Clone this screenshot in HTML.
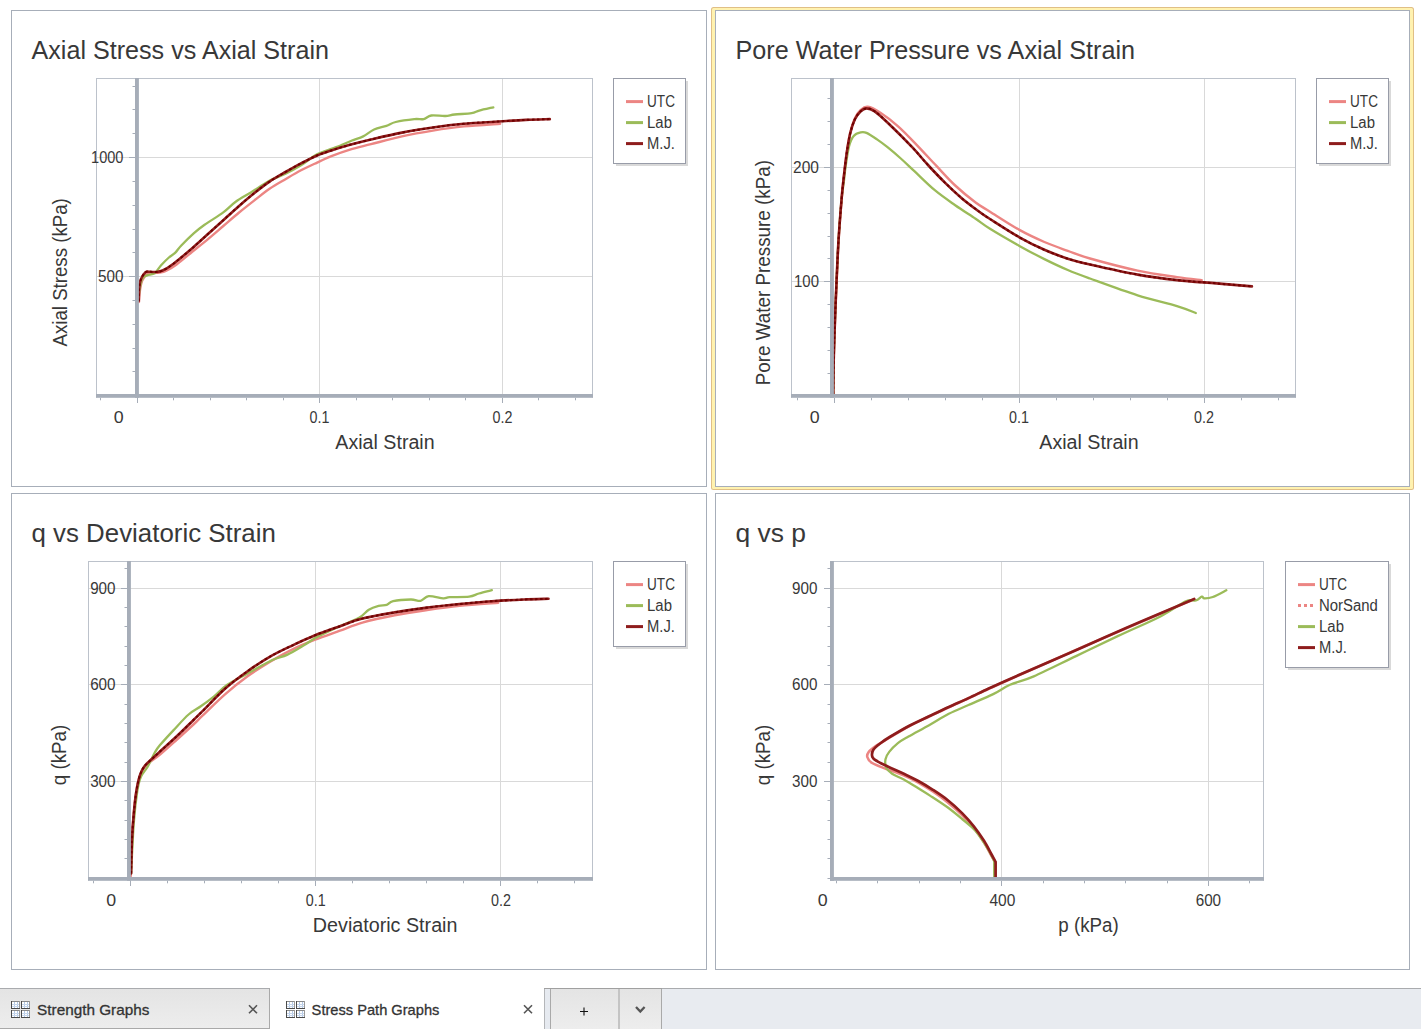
<!DOCTYPE html>
<html><head><meta charset="utf-8"><title>Stress Path Graphs</title>
<style>
html,body{margin:0;padding:0;background:#fff;}
body{width:1421px;height:1029px;overflow:hidden;}
svg{display:block;font-family:"Liberation Sans", sans-serif;}
</style></head><body>
<svg width="1421" height="1029" viewBox="0 0 1421 1029" shape-rendering="auto">
<rect x="0.00" y="0.00" width="1421.00" height="1029.00" fill="#FFFFFF" stroke="none" stroke-width="1" />
<rect x="711.00" y="7.00" width="703.00" height="483.00" fill="#E0BF86" stroke="none" stroke-width="1" rx="2.5"/>
<rect x="712.00" y="8.00" width="701.00" height="481.00" fill="#FFF2B0" stroke="none" stroke-width="1" rx="1.5"/>
<rect x="715.00" y="10.00" width="695.00" height="477.00" fill="#FFFFFF" stroke="none" stroke-width="1" />
<rect x="11.50" y="10.50" width="695.00" height="476.00" fill="none" stroke="#A7AEB9" stroke-width="1" />
<rect x="715.50" y="10.50" width="694.00" height="476.00" fill="none" stroke="#A7AEB9" stroke-width="1" />
<rect x="11.50" y="493.50" width="695.00" height="476.00" fill="none" stroke="#A7AEB9" stroke-width="1" />
<rect x="715.50" y="493.50" width="694.00" height="476.00" fill="none" stroke="#A7AEB9" stroke-width="1" />
<text x="31.49" y="58.90" font-size="25.50" fill="#383838" text-anchor="start" font-weight="normal" textLength="297.53" lengthAdjust="spacingAndGlyphs" >Axial Stress vs Axial Strain</text>
<text x="735.49" y="58.90" font-size="25.50" fill="#383838" text-anchor="start" font-weight="normal" textLength="399.53" lengthAdjust="spacingAndGlyphs" >Pore Water Pressure vs Axial Strain</text>
<text x="31.49" y="541.80" font-size="25.50" fill="#383838" text-anchor="start" font-weight="normal" textLength="244.33" lengthAdjust="spacingAndGlyphs" >q vs Deviatoric Strain</text>
<text x="735.49" y="541.80" font-size="25.50" fill="#383838" text-anchor="start" font-weight="normal" textLength="70.53" lengthAdjust="spacingAndGlyphs" >q vs p</text>
<line x1="96.50" y1="78.00" x2="96.50" y2="397.50" stroke="#BCC2CB" stroke-width="1"/>
<line x1="96.00" y1="78.50" x2="593.00" y2="78.50" stroke="#BCC2CB" stroke-width="1"/>
<line x1="592.50" y1="78.00" x2="592.50" y2="397.50" stroke="#BCC2CB" stroke-width="1"/>
<line x1="319.50" y1="79.00" x2="319.50" y2="394.00" stroke="#D9D9D9" stroke-width="1"/>
<line x1="502.50" y1="79.00" x2="502.50" y2="394.00" stroke="#D9D9D9" stroke-width="1"/>
<line x1="97.00" y1="276.50" x2="592.00" y2="276.50" stroke="#D9D9D9" stroke-width="1"/>
<line x1="97.00" y1="157.50" x2="592.00" y2="157.50" stroke="#D9D9D9" stroke-width="1"/>
<path d="M139.00 302.00 C139.17 300.00 139.50 293.50 140.00 290.00 C140.50 286.50 141.00 283.50 142.00 281.00 C143.00 278.50 144.58 276.28 146.00 275.00 C147.42 273.72 149.02 273.63 150.50 273.30 C151.98 272.97 153.32 273.13 154.90 273.00 C156.48 272.87 158.18 272.83 160.00 272.50 C161.82 272.17 163.03 272.33 165.80 271.00 C168.57 269.67 172.20 267.70 176.60 264.50 C181.00 261.30 187.02 256.00 192.20 251.80 C197.38 247.60 202.52 243.60 207.70 239.30 C212.88 235.00 218.12 230.42 223.30 226.00 C228.48 221.58 233.62 217.07 238.80 212.80 C243.98 208.53 249.22 204.43 254.40 200.40 C259.58 196.37 264.72 192.13 269.90 188.60 C275.08 185.07 280.32 182.25 285.50 179.20 C290.68 176.15 295.82 173.03 301.00 170.30 C306.18 167.57 311.42 165.20 316.60 162.80 C321.78 160.40 326.53 158.10 332.10 155.90 C337.67 153.70 343.52 151.55 350.00 149.60 C356.48 147.65 362.35 146.40 371.00 144.20 C379.65 142.00 391.58 138.67 401.90 136.40 C412.22 134.13 422.57 132.27 432.90 130.60 C443.23 128.93 452.68 127.53 463.90 126.40 C475.12 125.27 494.15 124.23 500.20 123.80" fill="none" stroke="#EC8583" stroke-width="2.4" stroke-linejoin="round" stroke-linecap="round" />
<path d="M138.80 299.00 C138.88 297.63 138.70 294.22 139.30 290.80 C139.90 287.38 141.10 281.07 142.40 278.50 C143.70 275.93 145.02 276.32 147.10 275.40 C149.18 274.48 152.57 274.68 154.90 273.00 C157.23 271.32 158.77 267.88 161.10 265.30 C163.43 262.72 166.57 259.58 168.90 257.50 C171.23 255.42 173.03 254.80 175.10 252.80 C177.17 250.80 178.20 248.73 181.30 245.50 C184.40 242.27 189.82 236.85 193.70 233.40 C197.58 229.95 199.67 228.30 204.60 224.80 C209.53 221.30 218.12 216.23 223.30 212.40 C228.48 208.57 231.03 205.17 235.70 201.80 C240.37 198.43 245.60 195.75 251.30 192.20 C257.00 188.65 264.20 183.57 269.90 180.50 C275.60 177.43 280.32 176.33 285.50 173.80 C290.68 171.27 295.82 168.50 301.00 165.30 C306.18 162.10 311.42 157.37 316.60 154.60 C321.78 151.83 328.20 150.18 332.10 148.70 C336.00 147.22 336.68 147.07 340.00 145.70 C343.32 144.33 348.13 142.05 352.00 140.50 C355.87 138.95 359.52 138.23 363.20 136.40 C366.88 134.57 370.23 131.25 374.10 129.50 C377.97 127.75 382.80 127.15 386.40 125.90 C390.00 124.65 391.05 123.13 395.70 122.00 C400.35 120.87 409.65 119.58 414.30 119.10 C418.95 118.62 420.77 119.70 423.60 119.10 C426.43 118.50 427.68 116.02 431.30 115.50 C434.92 114.98 441.42 116.17 445.30 116.00 C449.18 115.83 450.22 114.97 454.60 114.50 C458.98 114.03 467.48 113.85 471.60 113.20 C475.72 112.55 475.68 111.58 479.30 110.60 C482.92 109.62 490.97 107.85 493.30 107.30" fill="none" stroke="#9BBB59" stroke-width="2.3" stroke-linejoin="round" stroke-linecap="round" />
<path d="M138.70 301.00 C138.78 298.83 138.83 291.62 139.20 288.00 C139.57 284.38 139.85 281.92 140.90 279.30 C141.95 276.68 143.95 273.55 145.50 272.30 C147.05 271.05 148.38 271.85 150.20 271.80 C152.02 271.75 154.33 272.22 156.40 272.00 C158.47 271.78 159.75 271.88 162.60 270.50 C165.45 269.12 168.57 267.42 173.50 263.70 C178.43 259.98 186.50 253.12 192.20 248.20 C197.90 243.28 202.52 238.87 207.70 234.20 C212.88 229.53 218.12 224.87 223.30 220.20 C228.48 215.53 233.62 210.73 238.80 206.20 C243.98 201.67 249.22 197.15 254.40 193.00 C259.58 188.85 264.72 184.80 269.90 181.30 C275.08 177.80 280.32 174.98 285.50 172.00 C290.68 169.02 295.82 166.12 301.00 163.40 C306.18 160.68 311.42 157.90 316.60 155.70 C321.78 153.50 326.53 152.02 332.10 150.20 C337.67 148.38 343.52 146.58 350.00 144.80 C356.48 143.02 362.35 141.53 371.00 139.50 C379.65 137.47 391.58 134.60 401.90 132.60 C412.22 130.60 422.57 128.97 432.90 127.50 C443.23 126.03 453.58 124.77 463.90 123.80 C474.22 122.83 484.48 122.35 494.80 121.70 C505.12 121.05 516.63 120.33 525.80 119.90 C534.97 119.47 545.80 119.23 549.80 119.10" fill="none" stroke="#8E1C1C" stroke-width="2.6" stroke-linejoin="round" stroke-linecap="round" />
<path d="M138.70 301.00 C138.78 298.83 138.83 291.62 139.20 288.00 C139.57 284.38 139.85 281.92 140.90 279.30 C141.95 276.68 143.95 273.55 145.50 272.30 C147.05 271.05 148.38 271.85 150.20 271.80 C152.02 271.75 154.33 272.22 156.40 272.00 C158.47 271.78 159.75 271.88 162.60 270.50 C165.45 269.12 168.57 267.42 173.50 263.70 C178.43 259.98 186.50 253.12 192.20 248.20 C197.90 243.28 202.52 238.87 207.70 234.20 C212.88 229.53 218.12 224.87 223.30 220.20 C228.48 215.53 233.62 210.73 238.80 206.20 C243.98 201.67 249.22 197.15 254.40 193.00 C259.58 188.85 264.72 184.80 269.90 181.30 C275.08 177.80 280.32 174.98 285.50 172.00 C290.68 169.02 295.82 166.12 301.00 163.40 C306.18 160.68 311.42 157.90 316.60 155.70 C321.78 153.50 326.53 152.02 332.10 150.20 C337.67 148.38 343.52 146.58 350.00 144.80 C356.48 143.02 362.35 141.53 371.00 139.50 C379.65 137.47 391.58 134.60 401.90 132.60 C412.22 130.60 422.57 128.97 432.90 127.50 C443.23 126.03 453.58 124.77 463.90 123.80 C474.22 122.83 484.48 122.35 494.80 121.70 C505.12 121.05 516.63 120.33 525.80 119.90 C534.97 119.47 545.80 119.23 549.80 119.10" fill="none" stroke="#6E0000" stroke-width="2.0" stroke-dasharray="2.5 2.5" />
<rect x="96.00" y="394.00" width="497.00" height="3.80" fill="#A6ADB8" stroke="none" stroke-width="1" />
<rect x="135.00" y="78.00" width="3.90" height="319.80" fill="#A6ADB8" stroke="none" stroke-width="1" />
<line x1="129.00" y1="276.50" x2="135.00" y2="276.50" stroke="#A6ADB8" stroke-width="1"/>
<line x1="129.00" y1="157.50" x2="135.00" y2="157.50" stroke="#A6ADB8" stroke-width="1"/>
<line x1="132.50" y1="371.50" x2="135.00" y2="371.50" stroke="#A6ADB8" stroke-width="1"/>
<line x1="132.50" y1="348.50" x2="135.00" y2="348.50" stroke="#A6ADB8" stroke-width="1"/>
<line x1="132.50" y1="324.50" x2="135.00" y2="324.50" stroke="#A6ADB8" stroke-width="1"/>
<line x1="132.50" y1="300.50" x2="135.00" y2="300.50" stroke="#A6ADB8" stroke-width="1"/>
<line x1="132.50" y1="252.50" x2="135.00" y2="252.50" stroke="#A6ADB8" stroke-width="1"/>
<line x1="132.50" y1="229.50" x2="135.00" y2="229.50" stroke="#A6ADB8" stroke-width="1"/>
<line x1="132.50" y1="205.50" x2="135.00" y2="205.50" stroke="#A6ADB8" stroke-width="1"/>
<line x1="132.50" y1="181.50" x2="135.00" y2="181.50" stroke="#A6ADB8" stroke-width="1"/>
<line x1="132.50" y1="133.50" x2="135.00" y2="133.50" stroke="#A6ADB8" stroke-width="1"/>
<line x1="132.50" y1="109.50" x2="135.00" y2="109.50" stroke="#A6ADB8" stroke-width="1"/>
<line x1="132.50" y1="86.50" x2="135.00" y2="86.50" stroke="#A6ADB8" stroke-width="1"/>
<line x1="137.50" y1="397.80" x2="137.50" y2="403.00" stroke="#A6ADB8" stroke-width="1"/>
<line x1="319.50" y1="397.80" x2="319.50" y2="403.00" stroke="#A6ADB8" stroke-width="1"/>
<line x1="502.50" y1="397.80" x2="502.50" y2="403.00" stroke="#A6ADB8" stroke-width="1"/>
<line x1="100.50" y1="397.80" x2="100.50" y2="400.30" stroke="#A6ADB8" stroke-width="1"/>
<line x1="173.50" y1="397.80" x2="173.50" y2="400.30" stroke="#A6ADB8" stroke-width="1"/>
<line x1="210.50" y1="397.80" x2="210.50" y2="400.30" stroke="#A6ADB8" stroke-width="1"/>
<line x1="246.50" y1="397.80" x2="246.50" y2="400.30" stroke="#A6ADB8" stroke-width="1"/>
<line x1="283.50" y1="397.80" x2="283.50" y2="400.30" stroke="#A6ADB8" stroke-width="1"/>
<line x1="356.50" y1="397.80" x2="356.50" y2="400.30" stroke="#A6ADB8" stroke-width="1"/>
<line x1="392.50" y1="397.80" x2="392.50" y2="400.30" stroke="#A6ADB8" stroke-width="1"/>
<line x1="429.50" y1="397.80" x2="429.50" y2="400.30" stroke="#A6ADB8" stroke-width="1"/>
<line x1="465.50" y1="397.80" x2="465.50" y2="400.30" stroke="#A6ADB8" stroke-width="1"/>
<line x1="538.50" y1="397.80" x2="538.50" y2="400.30" stroke="#A6ADB8" stroke-width="1"/>
<line x1="575.50" y1="397.80" x2="575.50" y2="400.30" stroke="#A6ADB8" stroke-width="1"/>
<text x="123.45" y="162.60" font-size="16.00" fill="#383838" text-anchor="end" font-weight="normal" textLength="32.40" lengthAdjust="spacingAndGlyphs" >1000</text>
<text x="123.45" y="281.70" font-size="16.00" fill="#383838" text-anchor="end" font-weight="normal" textLength="25.40" lengthAdjust="spacingAndGlyphs" >500</text>
<text x="118.80" y="422.80" font-size="16.00" fill="#383838" text-anchor="middle" font-weight="normal" textLength="9.90" lengthAdjust="spacingAndGlyphs" >0</text>
<text x="319.50" y="422.80" font-size="16.00" fill="#383838" text-anchor="middle" font-weight="normal" textLength="19.90" lengthAdjust="spacingAndGlyphs" >0.1</text>
<text x="502.50" y="422.80" font-size="16.00" fill="#383838" text-anchor="middle" font-weight="normal" textLength="19.90" lengthAdjust="spacingAndGlyphs" >0.2</text>
<text x="335.34" y="448.80" font-size="19.50" fill="#383838" text-anchor="start" font-weight="normal" textLength="99.32" lengthAdjust="spacingAndGlyphs" >Axial Strain</text>
<text transform="translate(66.60 346.50) rotate(-90)" font-size="19.50" fill="#383838" textLength="148.30" lengthAdjust="spacingAndGlyphs">Axial Stress (kPa)</text>
<rect x="616.00" y="81.00" width="72.00" height="85.00" fill="#D9D9D9" stroke="none" stroke-width="1" />
<rect x="613.50" y="78.50" width="72.00" height="85.00" fill="#FFFFFF" stroke="#989CA8" stroke-width="1" />
<line x1="626.00" y1="101.60" x2="643.00" y2="101.60" stroke="#EC8583" stroke-width="3"/>
<text x="647.06" y="106.60" font-size="15.80" fill="#383838" text-anchor="start" font-weight="normal" textLength="27.88" lengthAdjust="spacingAndGlyphs" >UTC</text>
<line x1="626.00" y1="122.60" x2="643.00" y2="122.60" stroke="#9BBB59" stroke-width="3"/>
<text x="647.06" y="127.60" font-size="15.80" fill="#383838" text-anchor="start" font-weight="normal" textLength="24.88" lengthAdjust="spacingAndGlyphs" >Lab</text>
<line x1="626.00" y1="143.60" x2="643.00" y2="143.60" stroke="#8E1C1C" stroke-width="3"/>
<text x="647.06" y="148.60" font-size="15.80" fill="#383838" text-anchor="start" font-weight="normal" textLength="27.88" lengthAdjust="spacingAndGlyphs" >M.J.</text>
<line x1="791.50" y1="78.00" x2="791.50" y2="397.50" stroke="#BCC2CB" stroke-width="1"/>
<line x1="791.00" y1="78.50" x2="1296.00" y2="78.50" stroke="#BCC2CB" stroke-width="1"/>
<line x1="1295.50" y1="78.00" x2="1295.50" y2="397.50" stroke="#BCC2CB" stroke-width="1"/>
<line x1="1019.50" y1="79.00" x2="1019.50" y2="394.00" stroke="#D9D9D9" stroke-width="1"/>
<line x1="1204.50" y1="79.00" x2="1204.50" y2="394.00" stroke="#D9D9D9" stroke-width="1"/>
<line x1="792.00" y1="281.50" x2="1295.00" y2="281.50" stroke="#D9D9D9" stroke-width="1"/>
<line x1="792.00" y1="167.50" x2="1295.00" y2="167.50" stroke="#D9D9D9" stroke-width="1"/>
<path d="M833.30 394.00 C833.40 387.60 833.58 368.48 833.90 355.60 C834.22 342.72 834.72 329.67 835.20 316.70 C835.68 303.73 836.22 290.77 836.80 277.80 C837.38 264.83 837.90 251.87 838.70 238.90 C839.50 225.93 840.85 209.48 841.60 200.00 C842.35 190.52 842.35 189.92 843.20 182.00 C844.05 174.08 845.53 160.75 846.70 152.50 C847.87 144.25 848.85 138.17 850.20 132.50 C851.55 126.83 853.05 122.25 854.80 118.50 C856.55 114.75 858.55 111.95 860.70 110.00 C862.85 108.05 864.42 106.35 867.70 106.80 C870.98 107.25 875.33 109.45 880.40 112.70 C885.47 115.95 891.98 120.87 898.10 126.30 C904.22 131.73 910.75 138.73 917.10 145.30 C923.45 151.87 929.85 159.00 936.20 165.70 C942.55 172.40 948.63 179.37 955.20 185.50 C961.77 191.63 969.80 198.13 975.60 202.50 C981.40 206.87 982.70 207.13 990.00 211.70 C997.30 216.27 1010.33 224.85 1019.40 229.90 C1028.47 234.95 1036.33 238.50 1044.40 242.00 C1052.47 245.50 1060.20 248.15 1067.80 250.90 C1075.40 253.65 1078.37 255.22 1090.00 258.50 C1101.63 261.78 1123.10 267.50 1137.60 270.60 C1152.10 273.70 1166.32 275.52 1177.00 277.10 C1187.68 278.68 1197.58 279.60 1201.70 280.10" fill="none" stroke="#EC8583" stroke-width="2.4" stroke-linejoin="round" stroke-linecap="round" />
<path d="M833.20 394.00 C833.30 387.60 833.48 368.48 833.80 355.60 C834.12 342.72 834.62 329.67 835.10 316.70 C835.58 303.73 836.12 290.77 836.70 277.80 C837.28 264.83 837.80 251.87 838.60 238.90 C839.40 225.93 840.63 209.48 841.50 200.00 C842.37 190.52 843.13 187.43 843.80 182.00 C844.47 176.57 844.63 173.33 845.50 167.40 C846.37 161.47 847.63 151.65 849.00 146.40 C850.37 141.15 851.75 138.23 853.70 135.90 C855.65 133.57 858.57 132.90 860.70 132.40 C862.83 131.90 863.78 131.73 866.50 132.90 C869.22 134.07 873.50 137.02 877.00 139.40 C880.50 141.78 883.53 144.02 887.50 147.20 C891.47 150.38 896.32 154.50 900.80 158.50 C905.28 162.50 908.73 165.92 914.40 171.20 C920.07 176.48 928.00 184.53 934.80 190.20 C941.60 195.87 948.40 200.43 955.20 205.20 C962.00 209.97 969.80 214.87 975.60 218.80 C981.40 222.73 982.70 224.28 990.00 228.80 C997.30 233.32 1010.33 240.85 1019.40 245.90 C1028.47 250.95 1036.33 255.08 1044.40 259.10 C1052.47 263.12 1060.20 266.77 1067.80 270.00 C1075.40 273.23 1078.37 274.28 1090.00 278.50 C1101.63 282.72 1123.10 290.70 1137.60 295.30 C1152.10 299.90 1167.30 303.15 1177.00 306.10 C1186.70 309.05 1192.67 311.85 1195.80 313.00" fill="none" stroke="#9BBB59" stroke-width="2.3" stroke-linejoin="round" stroke-linecap="round" />
<path d="M833.20 394.00 C833.30 387.60 833.48 368.48 833.80 355.60 C834.12 342.72 834.62 329.67 835.10 316.70 C835.58 303.73 836.12 290.77 836.70 277.80 C837.28 264.83 837.80 251.87 838.60 238.90 C839.40 225.93 840.73 209.40 841.50 200.00 C842.27 190.60 842.33 190.27 843.20 182.50 C844.07 174.73 845.53 161.57 846.70 153.40 C847.87 145.23 848.85 139.15 850.20 133.50 C851.55 127.85 853.05 123.20 854.80 119.50 C856.55 115.80 858.75 113.15 860.70 111.30 C862.65 109.45 864.17 108.40 866.50 108.40 C868.83 108.40 871.12 108.87 874.70 111.30 C878.28 113.73 881.83 117.10 888.00 123.00 C894.17 128.90 905.03 139.70 911.70 146.70 C918.37 153.70 922.55 159.10 928.00 165.00 C933.45 170.90 938.73 176.53 944.40 182.10 C950.07 187.67 956.12 193.42 962.00 198.40 C967.88 203.38 975.03 208.57 979.70 212.00 C984.37 215.43 983.38 214.78 990.00 219.00 C996.62 223.22 1010.33 232.17 1019.40 237.30 C1028.47 242.43 1036.33 246.23 1044.40 249.80 C1052.47 253.37 1060.20 256.25 1067.80 258.70 C1075.40 261.15 1078.37 261.85 1090.00 264.50 C1101.63 267.15 1123.10 272.00 1137.60 274.60 C1152.10 277.20 1163.85 278.63 1177.00 280.10 C1190.15 281.57 1204.02 282.35 1216.50 283.40 C1228.98 284.45 1246.00 285.90 1251.90 286.40" fill="none" stroke="#8E1C1C" stroke-width="2.6" stroke-linejoin="round" stroke-linecap="round" />
<path d="M833.20 394.00 C833.30 387.60 833.48 368.48 833.80 355.60 C834.12 342.72 834.62 329.67 835.10 316.70 C835.58 303.73 836.12 290.77 836.70 277.80 C837.28 264.83 837.80 251.87 838.60 238.90 C839.40 225.93 840.73 209.40 841.50 200.00 C842.27 190.60 842.33 190.27 843.20 182.50 C844.07 174.73 845.53 161.57 846.70 153.40 C847.87 145.23 848.85 139.15 850.20 133.50 C851.55 127.85 853.05 123.20 854.80 119.50 C856.55 115.80 858.75 113.15 860.70 111.30 C862.65 109.45 864.17 108.40 866.50 108.40 C868.83 108.40 871.12 108.87 874.70 111.30 C878.28 113.73 881.83 117.10 888.00 123.00 C894.17 128.90 905.03 139.70 911.70 146.70 C918.37 153.70 922.55 159.10 928.00 165.00 C933.45 170.90 938.73 176.53 944.40 182.10 C950.07 187.67 956.12 193.42 962.00 198.40 C967.88 203.38 975.03 208.57 979.70 212.00 C984.37 215.43 983.38 214.78 990.00 219.00 C996.62 223.22 1010.33 232.17 1019.40 237.30 C1028.47 242.43 1036.33 246.23 1044.40 249.80 C1052.47 253.37 1060.20 256.25 1067.80 258.70 C1075.40 261.15 1078.37 261.85 1090.00 264.50 C1101.63 267.15 1123.10 272.00 1137.60 274.60 C1152.10 277.20 1163.85 278.63 1177.00 280.10 C1190.15 281.57 1204.02 282.35 1216.50 283.40 C1228.98 284.45 1246.00 285.90 1251.90 286.40" fill="none" stroke="#6E0000" stroke-width="2.0" stroke-dasharray="2.5 2.5" />
<rect x="791.00" y="394.00" width="505.00" height="3.80" fill="#A6ADB8" stroke="none" stroke-width="1" />
<rect x="830.00" y="78.00" width="3.90" height="319.80" fill="#A6ADB8" stroke="none" stroke-width="1" />
<line x1="824.00" y1="281.50" x2="830.00" y2="281.50" stroke="#A6ADB8" stroke-width="1"/>
<line x1="824.00" y1="167.50" x2="830.00" y2="167.50" stroke="#A6ADB8" stroke-width="1"/>
<line x1="827.50" y1="373.50" x2="830.00" y2="373.50" stroke="#A6ADB8" stroke-width="1"/>
<line x1="827.50" y1="350.50" x2="830.00" y2="350.50" stroke="#A6ADB8" stroke-width="1"/>
<line x1="827.50" y1="327.50" x2="830.00" y2="327.50" stroke="#A6ADB8" stroke-width="1"/>
<line x1="827.50" y1="304.50" x2="830.00" y2="304.50" stroke="#A6ADB8" stroke-width="1"/>
<line x1="827.50" y1="258.50" x2="830.00" y2="258.50" stroke="#A6ADB8" stroke-width="1"/>
<line x1="827.50" y1="236.50" x2="830.00" y2="236.50" stroke="#A6ADB8" stroke-width="1"/>
<line x1="827.50" y1="213.50" x2="830.00" y2="213.50" stroke="#A6ADB8" stroke-width="1"/>
<line x1="827.50" y1="190.50" x2="830.00" y2="190.50" stroke="#A6ADB8" stroke-width="1"/>
<line x1="827.50" y1="144.50" x2="830.00" y2="144.50" stroke="#A6ADB8" stroke-width="1"/>
<line x1="827.50" y1="121.50" x2="830.00" y2="121.50" stroke="#A6ADB8" stroke-width="1"/>
<line x1="827.50" y1="98.50" x2="830.00" y2="98.50" stroke="#A6ADB8" stroke-width="1"/>
<line x1="834.50" y1="397.80" x2="834.50" y2="403.00" stroke="#A6ADB8" stroke-width="1"/>
<line x1="1019.50" y1="397.80" x2="1019.50" y2="403.00" stroke="#A6ADB8" stroke-width="1"/>
<line x1="1204.50" y1="397.80" x2="1204.50" y2="403.00" stroke="#A6ADB8" stroke-width="1"/>
<line x1="797.50" y1="397.80" x2="797.50" y2="400.30" stroke="#A6ADB8" stroke-width="1"/>
<line x1="871.50" y1="397.80" x2="871.50" y2="400.30" stroke="#A6ADB8" stroke-width="1"/>
<line x1="908.50" y1="397.80" x2="908.50" y2="400.30" stroke="#A6ADB8" stroke-width="1"/>
<line x1="945.50" y1="397.80" x2="945.50" y2="400.30" stroke="#A6ADB8" stroke-width="1"/>
<line x1="982.50" y1="397.80" x2="982.50" y2="400.30" stroke="#A6ADB8" stroke-width="1"/>
<line x1="1056.50" y1="397.80" x2="1056.50" y2="400.30" stroke="#A6ADB8" stroke-width="1"/>
<line x1="1093.50" y1="397.80" x2="1093.50" y2="400.30" stroke="#A6ADB8" stroke-width="1"/>
<line x1="1130.50" y1="397.80" x2="1130.50" y2="400.30" stroke="#A6ADB8" stroke-width="1"/>
<line x1="1167.50" y1="397.80" x2="1167.50" y2="400.30" stroke="#A6ADB8" stroke-width="1"/>
<line x1="1241.50" y1="397.80" x2="1241.50" y2="400.30" stroke="#A6ADB8" stroke-width="1"/>
<line x1="1278.50" y1="397.80" x2="1278.50" y2="400.30" stroke="#A6ADB8" stroke-width="1"/>
<text x="818.95" y="172.70" font-size="16.00" fill="#383838" text-anchor="end" font-weight="normal" textLength="25.90" lengthAdjust="spacingAndGlyphs" >200</text>
<text x="818.95" y="286.70" font-size="16.00" fill="#383838" text-anchor="end" font-weight="normal" textLength="24.90" lengthAdjust="spacingAndGlyphs" >100</text>
<text x="814.80" y="422.80" font-size="16.00" fill="#383838" text-anchor="middle" font-weight="normal" textLength="9.90" lengthAdjust="spacingAndGlyphs" >0</text>
<text x="1019.00" y="422.80" font-size="16.00" fill="#383838" text-anchor="middle" font-weight="normal" textLength="19.90" lengthAdjust="spacingAndGlyphs" >0.1</text>
<text x="1204.00" y="422.80" font-size="16.00" fill="#383838" text-anchor="middle" font-weight="normal" textLength="19.90" lengthAdjust="spacingAndGlyphs" >0.2</text>
<text x="1039.34" y="448.80" font-size="19.50" fill="#383838" text-anchor="start" font-weight="normal" textLength="99.32" lengthAdjust="spacingAndGlyphs" >Axial Strain</text>
<text transform="translate(769.60 385.20) rotate(-90)" font-size="19.50" fill="#383838" textLength="225.20" lengthAdjust="spacingAndGlyphs">Pore Water Pressure (kPa)</text>
<rect x="1319.00" y="81.00" width="72.00" height="85.00" fill="#D9D9D9" stroke="none" stroke-width="1" />
<rect x="1316.50" y="78.50" width="72.00" height="85.00" fill="#FFFFFF" stroke="#989CA8" stroke-width="1" />
<line x1="1329.00" y1="101.60" x2="1346.00" y2="101.60" stroke="#EC8583" stroke-width="3"/>
<text x="1350.06" y="106.60" font-size="15.80" fill="#383838" text-anchor="start" font-weight="normal" textLength="27.88" lengthAdjust="spacingAndGlyphs" >UTC</text>
<line x1="1329.00" y1="122.60" x2="1346.00" y2="122.60" stroke="#9BBB59" stroke-width="3"/>
<text x="1350.06" y="127.60" font-size="15.80" fill="#383838" text-anchor="start" font-weight="normal" textLength="24.88" lengthAdjust="spacingAndGlyphs" >Lab</text>
<line x1="1329.00" y1="143.60" x2="1346.00" y2="143.60" stroke="#8E1C1C" stroke-width="3"/>
<text x="1350.06" y="148.60" font-size="15.80" fill="#383838" text-anchor="start" font-weight="normal" textLength="27.88" lengthAdjust="spacingAndGlyphs" >M.J.</text>
<line x1="88.50" y1="561.00" x2="88.50" y2="880.50" stroke="#BCC2CB" stroke-width="1"/>
<line x1="88.00" y1="561.50" x2="593.00" y2="561.50" stroke="#BCC2CB" stroke-width="1"/>
<line x1="592.50" y1="561.00" x2="592.50" y2="880.50" stroke="#BCC2CB" stroke-width="1"/>
<line x1="315.50" y1="562.00" x2="315.50" y2="877.00" stroke="#D9D9D9" stroke-width="1"/>
<line x1="500.50" y1="562.00" x2="500.50" y2="877.00" stroke="#D9D9D9" stroke-width="1"/>
<line x1="89.00" y1="781.50" x2="592.00" y2="781.50" stroke="#D9D9D9" stroke-width="1"/>
<line x1="89.00" y1="684.50" x2="592.00" y2="684.50" stroke="#D9D9D9" stroke-width="1"/>
<line x1="89.00" y1="588.50" x2="592.00" y2="588.50" stroke="#D9D9D9" stroke-width="1"/>
<path d="M130.80 876.00 C130.97 870.00 131.33 850.37 131.80 840.00 C132.27 829.63 132.87 821.88 133.60 813.80 C134.33 805.72 135.17 797.80 136.20 791.50 C137.23 785.20 138.45 780.00 139.80 776.00 C141.15 772.00 142.38 770.00 144.30 767.50 C146.22 765.00 148.68 763.15 151.30 761.00 C153.92 758.85 155.72 758.18 160.00 754.60 C164.28 751.02 171.33 744.60 177.00 739.50 C182.67 734.40 189.75 727.97 194.00 724.00 C198.25 720.03 197.33 720.65 202.50 715.70 C207.67 710.75 217.48 700.87 225.00 694.30 C232.52 687.73 240.08 681.73 247.60 676.30 C255.12 670.87 262.60 666.20 270.10 661.70 C277.60 657.20 285.10 652.97 292.60 649.30 C300.10 645.63 307.20 642.80 315.10 639.70 C323.00 636.60 332.12 633.55 340.00 630.70 C347.88 627.85 353.28 625.17 362.40 622.60 C371.52 620.03 383.92 617.38 394.70 615.30 C405.48 613.22 416.30 611.67 427.10 610.10 C437.90 608.53 447.63 607.13 459.50 605.90 C471.37 604.67 491.83 603.23 498.30 602.70" fill="none" stroke="#EC8583" stroke-width="2.4" stroke-linejoin="round" stroke-linecap="round" />
<path d="M131.10 873.40 C131.55 864.93 132.77 836.32 133.80 822.60 C134.83 808.88 136.13 798.70 137.30 791.10 C138.47 783.50 139.05 781.10 140.80 777.00 C142.55 772.90 145.47 770.58 147.80 766.50 C150.13 762.42 152.77 756.07 154.80 752.50 C156.83 748.93 156.87 748.83 160.00 745.10 C163.13 741.37 168.83 735.20 173.60 730.10 C178.37 725.00 184.07 718.47 188.60 714.50 C193.13 710.53 196.50 709.37 200.80 706.30 C205.10 703.23 209.98 699.70 214.40 696.10 C218.82 692.50 221.77 688.47 227.30 684.70 C232.83 680.93 240.10 677.62 247.60 673.50 C255.10 669.38 265.73 663.10 272.30 660.00 C278.87 656.90 281.73 657.35 287.00 654.90 C292.27 652.45 299.22 648.12 303.90 645.30 C308.58 642.48 311.35 640.15 315.10 638.00 C318.85 635.85 322.25 634.37 326.40 632.40 C330.55 630.43 334.55 628.63 340.00 626.20 C345.45 623.77 354.30 620.55 359.10 617.80 C363.90 615.05 365.55 611.68 368.80 609.70 C372.05 607.72 375.62 606.72 378.60 605.90 C381.58 605.08 384.28 605.60 386.70 604.80 C389.12 604.00 389.07 601.98 393.10 601.10 C397.13 600.22 406.32 599.55 410.90 599.50 C415.48 599.45 417.63 601.35 420.60 600.80 C423.57 600.25 424.92 596.62 428.70 596.20 C432.48 595.78 439.78 598.13 443.30 598.30 C446.82 598.47 445.48 597.47 449.80 597.20 C454.12 596.93 464.35 597.32 469.20 596.70 C474.05 596.08 475.12 594.58 478.90 593.50 C482.68 592.42 489.73 590.75 491.90 590.20" fill="none" stroke="#9BBB59" stroke-width="2.3" stroke-linejoin="round" stroke-linecap="round" />
<path d="M131.10 873.40 C131.25 867.85 131.55 850.03 132.00 840.10 C132.45 830.17 133.07 821.97 133.80 813.80 C134.53 805.63 135.38 797.52 136.40 791.10 C137.42 784.68 138.58 779.40 139.90 775.30 C141.22 771.20 142.40 769.13 144.30 766.50 C146.20 763.87 148.68 762.00 151.30 759.50 C153.92 757.00 155.72 755.42 160.00 751.50 C164.28 747.58 171.33 741.33 177.00 736.00 C182.67 730.67 189.75 723.63 194.00 719.50 C198.25 715.37 197.33 716.33 202.50 711.20 C207.67 706.07 217.48 695.37 225.00 688.70 C232.52 682.03 240.08 676.55 247.60 671.20 C255.12 665.85 262.60 660.92 270.10 656.60 C277.60 652.28 285.10 648.87 292.60 645.30 C300.10 641.73 307.20 638.38 315.10 635.20 C323.00 632.02 332.12 628.97 340.00 626.20 C347.88 623.43 353.28 620.90 362.40 618.60 C371.52 616.30 383.92 614.23 394.70 612.40 C405.48 610.57 416.30 609.00 427.10 607.60 C437.90 606.20 448.70 605.07 459.50 604.00 C470.30 602.93 481.12 601.95 491.90 601.20 C502.68 600.45 514.77 599.90 524.20 599.50 C533.63 599.10 544.45 598.92 548.50 598.80" fill="none" stroke="#8E1C1C" stroke-width="2.6" stroke-linejoin="round" stroke-linecap="round" />
<path d="M131.10 873.40 C131.25 867.85 131.55 850.03 132.00 840.10 C132.45 830.17 133.07 821.97 133.80 813.80 C134.53 805.63 135.38 797.52 136.40 791.10 C137.42 784.68 138.58 779.40 139.90 775.30 C141.22 771.20 142.40 769.13 144.30 766.50 C146.20 763.87 148.68 762.00 151.30 759.50 C153.92 757.00 155.72 755.42 160.00 751.50 C164.28 747.58 171.33 741.33 177.00 736.00 C182.67 730.67 189.75 723.63 194.00 719.50 C198.25 715.37 197.33 716.33 202.50 711.20 C207.67 706.07 217.48 695.37 225.00 688.70 C232.52 682.03 240.08 676.55 247.60 671.20 C255.12 665.85 262.60 660.92 270.10 656.60 C277.60 652.28 285.10 648.87 292.60 645.30 C300.10 641.73 307.20 638.38 315.10 635.20 C323.00 632.02 332.12 628.97 340.00 626.20 C347.88 623.43 353.28 620.90 362.40 618.60 C371.52 616.30 383.92 614.23 394.70 612.40 C405.48 610.57 416.30 609.00 427.10 607.60 C437.90 606.20 448.70 605.07 459.50 604.00 C470.30 602.93 481.12 601.95 491.90 601.20 C502.68 600.45 514.77 599.90 524.20 599.50 C533.63 599.10 544.45 598.92 548.50 598.80" fill="none" stroke="#6E0000" stroke-width="2.0" stroke-dasharray="2.5 2.5" />
<rect x="88.00" y="877.00" width="505.00" height="3.80" fill="#A6ADB8" stroke="none" stroke-width="1" />
<rect x="127.00" y="561.00" width="3.90" height="319.80" fill="#A6ADB8" stroke="none" stroke-width="1" />
<line x1="121.00" y1="781.50" x2="127.00" y2="781.50" stroke="#A6ADB8" stroke-width="1"/>
<line x1="121.00" y1="684.50" x2="127.00" y2="684.50" stroke="#A6ADB8" stroke-width="1"/>
<line x1="121.00" y1="588.50" x2="127.00" y2="588.50" stroke="#A6ADB8" stroke-width="1"/>
<line x1="124.50" y1="858.50" x2="127.00" y2="858.50" stroke="#A6ADB8" stroke-width="1"/>
<line x1="124.50" y1="839.50" x2="127.00" y2="839.50" stroke="#A6ADB8" stroke-width="1"/>
<line x1="124.50" y1="820.50" x2="127.00" y2="820.50" stroke="#A6ADB8" stroke-width="1"/>
<line x1="124.50" y1="800.50" x2="127.00" y2="800.50" stroke="#A6ADB8" stroke-width="1"/>
<line x1="124.50" y1="762.50" x2="127.00" y2="762.50" stroke="#A6ADB8" stroke-width="1"/>
<line x1="124.50" y1="742.50" x2="127.00" y2="742.50" stroke="#A6ADB8" stroke-width="1"/>
<line x1="124.50" y1="723.50" x2="127.00" y2="723.50" stroke="#A6ADB8" stroke-width="1"/>
<line x1="124.50" y1="704.50" x2="127.00" y2="704.50" stroke="#A6ADB8" stroke-width="1"/>
<line x1="124.50" y1="665.50" x2="127.00" y2="665.50" stroke="#A6ADB8" stroke-width="1"/>
<line x1="124.50" y1="646.50" x2="127.00" y2="646.50" stroke="#A6ADB8" stroke-width="1"/>
<line x1="124.50" y1="626.50" x2="127.00" y2="626.50" stroke="#A6ADB8" stroke-width="1"/>
<line x1="124.50" y1="607.50" x2="127.00" y2="607.50" stroke="#A6ADB8" stroke-width="1"/>
<line x1="124.50" y1="568.50" x2="127.00" y2="568.50" stroke="#A6ADB8" stroke-width="1"/>
<line x1="130.50" y1="880.80" x2="130.50" y2="886.00" stroke="#A6ADB8" stroke-width="1"/>
<line x1="315.50" y1="880.80" x2="315.50" y2="886.00" stroke="#A6ADB8" stroke-width="1"/>
<line x1="500.50" y1="880.80" x2="500.50" y2="886.00" stroke="#A6ADB8" stroke-width="1"/>
<line x1="93.50" y1="880.80" x2="93.50" y2="883.30" stroke="#A6ADB8" stroke-width="1"/>
<line x1="167.50" y1="880.80" x2="167.50" y2="883.30" stroke="#A6ADB8" stroke-width="1"/>
<line x1="204.50" y1="880.80" x2="204.50" y2="883.30" stroke="#A6ADB8" stroke-width="1"/>
<line x1="241.50" y1="880.80" x2="241.50" y2="883.30" stroke="#A6ADB8" stroke-width="1"/>
<line x1="278.50" y1="880.80" x2="278.50" y2="883.30" stroke="#A6ADB8" stroke-width="1"/>
<line x1="352.50" y1="880.80" x2="352.50" y2="883.30" stroke="#A6ADB8" stroke-width="1"/>
<line x1="389.50" y1="880.80" x2="389.50" y2="883.30" stroke="#A6ADB8" stroke-width="1"/>
<line x1="426.50" y1="880.80" x2="426.50" y2="883.30" stroke="#A6ADB8" stroke-width="1"/>
<line x1="463.50" y1="880.80" x2="463.50" y2="883.30" stroke="#A6ADB8" stroke-width="1"/>
<line x1="537.50" y1="880.80" x2="537.50" y2="883.30" stroke="#A6ADB8" stroke-width="1"/>
<line x1="574.50" y1="880.80" x2="574.50" y2="883.30" stroke="#A6ADB8" stroke-width="1"/>
<text x="115.55" y="593.70" font-size="16.00" fill="#383838" text-anchor="end" font-weight="normal" textLength="25.40" lengthAdjust="spacingAndGlyphs" >900</text>
<text x="115.55" y="689.80" font-size="16.00" fill="#383838" text-anchor="end" font-weight="normal" textLength="25.40" lengthAdjust="spacingAndGlyphs" >600</text>
<text x="115.55" y="786.60" font-size="16.00" fill="#383838" text-anchor="end" font-weight="normal" textLength="25.40" lengthAdjust="spacingAndGlyphs" >300</text>
<text x="111.30" y="905.80" font-size="16.00" fill="#383838" text-anchor="middle" font-weight="normal" textLength="9.90" lengthAdjust="spacingAndGlyphs" >0</text>
<text x="315.70" y="905.80" font-size="16.00" fill="#383838" text-anchor="middle" font-weight="normal" textLength="19.90" lengthAdjust="spacingAndGlyphs" >0.1</text>
<text x="501.00" y="905.80" font-size="16.00" fill="#383838" text-anchor="middle" font-weight="normal" textLength="19.90" lengthAdjust="spacingAndGlyphs" >0.2</text>
<text x="312.84" y="931.80" font-size="19.50" fill="#383838" text-anchor="start" font-weight="normal" textLength="144.62" lengthAdjust="spacingAndGlyphs" >Deviatoric Strain</text>
<text transform="translate(66.30 785.20) rotate(-90)" font-size="19.50" fill="#383838" textLength="60.40" lengthAdjust="spacingAndGlyphs">q (kPa)</text>
<rect x="616.00" y="564.00" width="72.00" height="85.00" fill="#D9D9D9" stroke="none" stroke-width="1" />
<rect x="613.50" y="561.50" width="72.00" height="85.00" fill="#FFFFFF" stroke="#989CA8" stroke-width="1" />
<line x1="626.00" y1="584.60" x2="643.00" y2="584.60" stroke="#EC8583" stroke-width="3"/>
<text x="647.06" y="589.60" font-size="15.80" fill="#383838" text-anchor="start" font-weight="normal" textLength="27.88" lengthAdjust="spacingAndGlyphs" >UTC</text>
<line x1="626.00" y1="605.60" x2="643.00" y2="605.60" stroke="#9BBB59" stroke-width="3"/>
<text x="647.06" y="610.60" font-size="15.80" fill="#383838" text-anchor="start" font-weight="normal" textLength="24.88" lengthAdjust="spacingAndGlyphs" >Lab</text>
<line x1="626.00" y1="626.60" x2="643.00" y2="626.60" stroke="#8E1C1C" stroke-width="3"/>
<text x="647.06" y="631.60" font-size="15.80" fill="#383838" text-anchor="start" font-weight="normal" textLength="27.88" lengthAdjust="spacingAndGlyphs" >M.J.</text>
<line x1="830.00" y1="561.50" x2="1264.00" y2="561.50" stroke="#BCC2CB" stroke-width="1"/>
<line x1="1263.50" y1="561.00" x2="1263.50" y2="880.50" stroke="#BCC2CB" stroke-width="1"/>
<line x1="1001.50" y1="562.00" x2="1001.50" y2="877.00" stroke="#D9D9D9" stroke-width="1"/>
<line x1="1208.50" y1="562.00" x2="1208.50" y2="877.00" stroke="#D9D9D9" stroke-width="1"/>
<line x1="831.00" y1="781.50" x2="1263.00" y2="781.50" stroke="#D9D9D9" stroke-width="1"/>
<line x1="831.00" y1="684.50" x2="1263.00" y2="684.50" stroke="#D9D9D9" stroke-width="1"/>
<line x1="831.00" y1="588.50" x2="1263.00" y2="588.50" stroke="#D9D9D9" stroke-width="1"/>
<path d="M995.20 877.30 L995.20 862.00 L995.20 862.00 C994.47 860.75 992.75 857.92 990.80 854.50 C988.85 851.08 986.38 845.97 983.50 841.50 C980.62 837.03 977.17 832.20 973.50 827.70 C969.83 823.20 965.83 818.75 961.50 814.50 C957.17 810.25 952.27 806.03 947.50 802.20 C942.73 798.37 937.77 794.78 932.90 791.50 C928.03 788.22 923.28 785.25 918.30 782.50 C913.32 779.75 908.83 777.43 903.00 775.00 C897.17 772.57 888.52 769.93 883.30 767.90 C878.08 765.87 874.37 764.62 871.70 762.80 C869.03 760.98 867.80 758.82 867.30 757.00 C866.80 755.18 867.42 753.65 868.70 751.90 C869.98 750.15 872.57 748.23 875.00 746.50 C877.43 744.77 880.85 743.00 883.30 741.50 C885.75 740.00 885.35 740.08 889.70 737.50 C894.05 734.92 902.83 729.50 909.40 726.00 C915.97 722.50 922.53 719.63 929.10 716.50 C935.67 713.37 942.23 710.23 948.80 707.20 C955.37 704.17 961.93 701.33 968.50 698.30 C975.07 695.27 981.28 692.18 988.20 689.00 C995.12 685.82 993.97 686.32 1010.00 679.20 C1026.03 672.08 1057.92 657.83 1084.40 646.30 C1110.88 634.77 1150.63 617.80 1168.90 610.00 C1187.17 602.20 1189.82 601.25 1194.00 599.50" fill="none" stroke="#EC8583" stroke-width="2.6" stroke-linejoin="round" stroke-linecap="round" />
<path d="M994.20 877.30 L994.20 861.30 L994.20 861.30 C993.22 859.35 991.47 854.72 988.30 849.60 C985.13 844.48 979.57 835.70 975.20 830.60 C970.83 825.50 966.72 822.88 962.10 819.00 C957.48 815.12 952.85 811.20 947.50 807.30 C942.15 803.40 934.87 798.77 930.00 795.60 C925.13 792.43 922.67 790.97 918.30 788.30 C913.93 785.63 908.17 782.02 903.80 779.60 C899.43 777.18 895.02 775.75 892.10 773.80 C889.18 771.85 887.40 770.33 886.30 767.90 C885.20 765.47 885.02 761.87 885.50 759.20 C885.98 756.53 887.13 754.58 889.20 751.90 C891.27 749.22 894.68 745.67 897.90 743.10 C901.12 740.53 903.30 739.48 908.50 736.50 C913.70 733.52 922.38 728.98 929.10 725.20 C935.82 721.42 942.23 717.17 948.80 713.80 C955.37 710.43 961.10 708.28 968.50 705.00 C975.90 701.72 986.28 697.47 993.20 694.10 C1000.12 690.73 1003.23 687.75 1010.00 684.80 C1016.77 681.85 1022.80 681.18 1033.80 676.40 C1044.80 671.62 1061.93 662.85 1076.00 656.10 C1090.07 649.35 1104.13 642.52 1118.20 635.90 C1132.27 629.28 1149.13 622.18 1160.40 616.40 C1171.67 610.62 1179.88 603.87 1185.80 601.20 C1191.72 598.53 1193.23 601.15 1195.90 600.40 C1198.57 599.65 1200.38 597.03 1201.80 596.70 C1203.22 596.37 1202.57 598.35 1204.40 598.40 C1206.23 598.45 1209.15 598.35 1212.80 597.00 C1216.45 595.65 1224.05 591.42 1226.30 590.30" fill="none" stroke="#9BBB59" stroke-width="2.3" stroke-linejoin="round" stroke-linecap="round" />
<path d="M995.60 877.30 L995.60 862.00 L995.60 862.00 C994.88 860.67 993.23 857.53 991.30 854.00 C989.37 850.47 986.92 845.42 984.00 840.80 C981.08 836.18 977.45 830.92 973.80 826.30 C970.15 821.68 966.48 817.48 962.10 813.10 C957.72 808.72 952.37 803.88 947.50 800.00 C942.63 796.12 937.77 792.97 932.90 789.80 C928.03 786.63 923.15 783.67 918.30 781.00 C913.45 778.33 908.65 776.10 903.80 773.80 C898.95 771.50 893.58 769.27 889.20 767.20 C884.82 765.13 880.30 763.10 877.50 761.40 C874.70 759.70 873.07 758.98 872.40 757.00 C871.73 755.02 871.98 751.92 873.50 749.50 C875.02 747.08 878.80 744.58 881.50 742.50 C884.20 740.42 885.05 739.80 889.70 737.00 C894.35 734.20 902.83 729.15 909.40 725.70 C915.97 722.25 922.53 719.42 929.10 716.30 C935.67 713.18 942.23 710.03 948.80 707.00 C955.37 703.97 961.93 701.15 968.50 698.10 C975.07 695.05 981.28 691.90 988.20 688.70 C995.12 685.50 1001.03 682.85 1010.00 678.90 C1018.97 674.95 1029.60 670.40 1042.00 665.00 C1054.40 659.60 1070.40 652.67 1084.40 646.50 C1098.40 640.33 1111.92 634.13 1126.00 628.00 C1140.08 621.87 1157.53 614.53 1168.90 609.70 C1180.27 604.87 1189.98 600.78 1194.20 599.00" fill="none" stroke="#8E1C1C" stroke-width="2.7" stroke-linejoin="round" stroke-linecap="round" />
<rect x="830.00" y="877.00" width="434.00" height="3.80" fill="#A6ADB8" stroke="none" stroke-width="1" />
<rect x="830.00" y="561.00" width="3.90" height="319.80" fill="#A6ADB8" stroke="none" stroke-width="1" />
<line x1="824.00" y1="781.50" x2="830.00" y2="781.50" stroke="#A6ADB8" stroke-width="1"/>
<line x1="824.00" y1="684.50" x2="830.00" y2="684.50" stroke="#A6ADB8" stroke-width="1"/>
<line x1="824.00" y1="588.50" x2="830.00" y2="588.50" stroke="#A6ADB8" stroke-width="1"/>
<line x1="827.50" y1="878.50" x2="830.00" y2="878.50" stroke="#A6ADB8" stroke-width="1"/>
<line x1="827.50" y1="858.50" x2="830.00" y2="858.50" stroke="#A6ADB8" stroke-width="1"/>
<line x1="827.50" y1="839.50" x2="830.00" y2="839.50" stroke="#A6ADB8" stroke-width="1"/>
<line x1="827.50" y1="820.50" x2="830.00" y2="820.50" stroke="#A6ADB8" stroke-width="1"/>
<line x1="827.50" y1="800.50" x2="830.00" y2="800.50" stroke="#A6ADB8" stroke-width="1"/>
<line x1="827.50" y1="762.50" x2="830.00" y2="762.50" stroke="#A6ADB8" stroke-width="1"/>
<line x1="827.50" y1="742.50" x2="830.00" y2="742.50" stroke="#A6ADB8" stroke-width="1"/>
<line x1="827.50" y1="723.50" x2="830.00" y2="723.50" stroke="#A6ADB8" stroke-width="1"/>
<line x1="827.50" y1="704.50" x2="830.00" y2="704.50" stroke="#A6ADB8" stroke-width="1"/>
<line x1="827.50" y1="665.50" x2="830.00" y2="665.50" stroke="#A6ADB8" stroke-width="1"/>
<line x1="827.50" y1="646.50" x2="830.00" y2="646.50" stroke="#A6ADB8" stroke-width="1"/>
<line x1="827.50" y1="626.50" x2="830.00" y2="626.50" stroke="#A6ADB8" stroke-width="1"/>
<line x1="827.50" y1="607.50" x2="830.00" y2="607.50" stroke="#A6ADB8" stroke-width="1"/>
<line x1="827.50" y1="568.50" x2="830.00" y2="568.50" stroke="#A6ADB8" stroke-width="1"/>
<line x1="1001.50" y1="880.80" x2="1001.50" y2="886.00" stroke="#A6ADB8" stroke-width="1"/>
<line x1="1208.50" y1="880.80" x2="1208.50" y2="886.00" stroke="#A6ADB8" stroke-width="1"/>
<line x1="836.50" y1="880.80" x2="836.50" y2="883.30" stroke="#A6ADB8" stroke-width="1"/>
<line x1="877.50" y1="880.80" x2="877.50" y2="883.30" stroke="#A6ADB8" stroke-width="1"/>
<line x1="919.50" y1="880.80" x2="919.50" y2="883.30" stroke="#A6ADB8" stroke-width="1"/>
<line x1="960.50" y1="880.80" x2="960.50" y2="883.30" stroke="#A6ADB8" stroke-width="1"/>
<line x1="1043.50" y1="880.80" x2="1043.50" y2="883.30" stroke="#A6ADB8" stroke-width="1"/>
<line x1="1084.50" y1="880.80" x2="1084.50" y2="883.30" stroke="#A6ADB8" stroke-width="1"/>
<line x1="1125.50" y1="880.80" x2="1125.50" y2="883.30" stroke="#A6ADB8" stroke-width="1"/>
<line x1="1167.50" y1="880.80" x2="1167.50" y2="883.30" stroke="#A6ADB8" stroke-width="1"/>
<line x1="1249.50" y1="880.80" x2="1249.50" y2="883.30" stroke="#A6ADB8" stroke-width="1"/>
<text x="817.45" y="593.70" font-size="16.00" fill="#383838" text-anchor="end" font-weight="normal" textLength="25.40" lengthAdjust="spacingAndGlyphs" >900</text>
<text x="817.45" y="689.80" font-size="16.00" fill="#383838" text-anchor="end" font-weight="normal" textLength="25.40" lengthAdjust="spacingAndGlyphs" >600</text>
<text x="817.45" y="786.60" font-size="16.00" fill="#383838" text-anchor="end" font-weight="normal" textLength="25.40" lengthAdjust="spacingAndGlyphs" >300</text>
<text x="822.60" y="905.80" font-size="16.00" fill="#383838" text-anchor="middle" font-weight="normal" textLength="9.90" lengthAdjust="spacingAndGlyphs" >0</text>
<text x="1002.40" y="905.80" font-size="16.00" fill="#383838" text-anchor="middle" font-weight="normal" textLength="25.90" lengthAdjust="spacingAndGlyphs" >400</text>
<text x="1208.40" y="905.80" font-size="16.00" fill="#383838" text-anchor="middle" font-weight="normal" textLength="25.40" lengthAdjust="spacingAndGlyphs" >600</text>
<text x="1058.34" y="931.80" font-size="19.50" fill="#383838" text-anchor="start" font-weight="normal" textLength="60.32" lengthAdjust="spacingAndGlyphs" >p (kPa)</text>
<text transform="translate(770.00 785.20) rotate(-90)" font-size="19.50" fill="#383838" textLength="60.40" lengthAdjust="spacingAndGlyphs">q (kPa)</text>
<rect x="1288.00" y="564.00" width="103.00" height="106.00" fill="#D9D9D9" stroke="none" stroke-width="1" />
<rect x="1285.50" y="561.50" width="103.00" height="106.00" fill="#FFFFFF" stroke="#989CA8" stroke-width="1" />
<line x1="1298.00" y1="584.60" x2="1315.00" y2="584.60" stroke="#EC8583" stroke-width="3"/>
<text x="1319.06" y="589.60" font-size="15.80" fill="#383838" text-anchor="start" font-weight="normal" textLength="27.88" lengthAdjust="spacingAndGlyphs" >UTC</text>
<line x1="1298.00" y1="605.60" x2="1316.00" y2="605.60" stroke="#EC8583" stroke-width="3" stroke-dasharray="3 3"/>
<text x="1319.06" y="610.60" font-size="15.80" fill="#383838" text-anchor="start" font-weight="normal" textLength="58.88" lengthAdjust="spacingAndGlyphs" >NorSand</text>
<line x1="1298.00" y1="626.60" x2="1315.00" y2="626.60" stroke="#9BBB59" stroke-width="3"/>
<text x="1319.06" y="631.60" font-size="15.80" fill="#383838" text-anchor="start" font-weight="normal" textLength="24.88" lengthAdjust="spacingAndGlyphs" >Lab</text>
<line x1="1298.00" y1="647.60" x2="1315.00" y2="647.60" stroke="#8E1C1C" stroke-width="3"/>
<text x="1319.06" y="652.60" font-size="15.80" fill="#383838" text-anchor="start" font-weight="normal" textLength="27.88" lengthAdjust="spacingAndGlyphs" >M.J.</text>
<rect x="0.00" y="988.00" width="1421.00" height="41.00" fill="#E8EBF0" stroke="none" stroke-width="1" />
<line x1="0.00" y1="988.50" x2="1421.00" y2="988.50" stroke="#A9ABAE" stroke-width="1"/>
<defs><linearGradient id="tg" x1="0" y1="0" x2="0" y2="1"><stop offset="0" stop-color="#E4E4E4"/><stop offset="1" stop-color="#EDEDED"/></linearGradient></defs>
<rect x="0.00" y="989.00" width="269.00" height="39.00" fill="url(#tg)" stroke="none" stroke-width="1" />
<line x1="269.50" y1="988.00" x2="269.50" y2="1029.00" stroke="#A9A9A9" stroke-width="1"/>
<line x1="0.00" y1="1028.50" x2="269.00" y2="1028.50" stroke="#A9A9A9" stroke-width="1"/>
<rect x="270.00" y="988.00" width="274.00" height="41.00" fill="#FFFFFF" stroke="none" stroke-width="1" />
<rect x="544.00" y="989.00" width="6.00" height="40.00" fill="#E6EAF0" stroke="none" stroke-width="1" />
<line x1="544.50" y1="988.00" x2="544.50" y2="1029.00" stroke="#B4B6B9" stroke-width="1"/>
<rect x="550.00" y="989.00" width="112.00" height="40.00" fill="url(#tg)" stroke="none" stroke-width="1" />
<line x1="550.50" y1="988.00" x2="550.50" y2="1029.00" stroke="#A9A9A9" stroke-width="1"/>
<rect x="618.00" y="989.00" width="2.00" height="40.00" fill="#C4C4C4" stroke="none" stroke-width="1" />
<line x1="661.50" y1="988.00" x2="661.50" y2="1029.00" stroke="#A9A9A9" stroke-width="1"/>
<line x1="544.00" y1="988.50" x2="662.00" y2="988.50" stroke="#A0A0A0" stroke-width="1"/>
<rect x="11.00" y="1001.00" width="9.00" height="8.00" fill="#FFFFFF" stroke="none" stroke-width="1" />
<line x1="14.50" y1="1002.00" x2="14.50" y2="1008.00" stroke="#B3C9E6" stroke-width="1"/>
<line x1="17.50" y1="1002.00" x2="17.50" y2="1008.00" stroke="#B3C9E6" stroke-width="1"/>
<line x1="12.00" y1="1004.50" x2="19.00" y2="1004.50" stroke="#C6D6EC" stroke-width="1"/>
<line x1="12.00" y1="1006.50" x2="19.00" y2="1006.50" stroke="#C6D6EC" stroke-width="1"/>
<line x1="11.00" y1="1001.50" x2="20.00" y2="1001.50" stroke="#8A8A8A" stroke-width="1"/>
<line x1="19.50" y1="1001.00" x2="19.50" y2="1009.00" stroke="#9A9A9A" stroke-width="1"/>
<line x1="11.50" y1="1001.00" x2="11.50" y2="1009.00" stroke="#4A4A4A" stroke-width="1"/>
<line x1="11.00" y1="1008.50" x2="20.00" y2="1008.50" stroke="#4A4A4A" stroke-width="1"/>
<rect x="11.00" y="1010.00" width="9.00" height="8.00" fill="#FFFFFF" stroke="none" stroke-width="1" />
<line x1="14.50" y1="1011.00" x2="14.50" y2="1017.00" stroke="#B3C9E6" stroke-width="1"/>
<line x1="17.50" y1="1011.00" x2="17.50" y2="1017.00" stroke="#B3C9E6" stroke-width="1"/>
<line x1="12.00" y1="1013.50" x2="19.00" y2="1013.50" stroke="#C6D6EC" stroke-width="1"/>
<line x1="12.00" y1="1015.50" x2="19.00" y2="1015.50" stroke="#C6D6EC" stroke-width="1"/>
<line x1="11.00" y1="1010.50" x2="20.00" y2="1010.50" stroke="#8A8A8A" stroke-width="1"/>
<line x1="19.50" y1="1010.00" x2="19.50" y2="1018.00" stroke="#9A9A9A" stroke-width="1"/>
<line x1="11.50" y1="1010.00" x2="11.50" y2="1018.00" stroke="#4A4A4A" stroke-width="1"/>
<line x1="11.00" y1="1017.50" x2="20.00" y2="1017.50" stroke="#4A4A4A" stroke-width="1"/>
<rect x="21.00" y="1001.00" width="9.00" height="8.00" fill="#FFFFFF" stroke="none" stroke-width="1" />
<line x1="24.50" y1="1002.00" x2="24.50" y2="1008.00" stroke="#B3C9E6" stroke-width="1"/>
<line x1="27.50" y1="1002.00" x2="27.50" y2="1008.00" stroke="#B3C9E6" stroke-width="1"/>
<line x1="22.00" y1="1004.50" x2="29.00" y2="1004.50" stroke="#C6D6EC" stroke-width="1"/>
<line x1="22.00" y1="1006.50" x2="29.00" y2="1006.50" stroke="#C6D6EC" stroke-width="1"/>
<line x1="21.00" y1="1001.50" x2="30.00" y2="1001.50" stroke="#8A8A8A" stroke-width="1"/>
<line x1="29.50" y1="1001.00" x2="29.50" y2="1009.00" stroke="#9A9A9A" stroke-width="1"/>
<line x1="21.50" y1="1001.00" x2="21.50" y2="1009.00" stroke="#4A4A4A" stroke-width="1"/>
<line x1="21.00" y1="1008.50" x2="30.00" y2="1008.50" stroke="#4A4A4A" stroke-width="1"/>
<rect x="21.00" y="1010.00" width="9.00" height="8.00" fill="#FFFFFF" stroke="none" stroke-width="1" />
<line x1="24.50" y1="1011.00" x2="24.50" y2="1017.00" stroke="#B3C9E6" stroke-width="1"/>
<line x1="27.50" y1="1011.00" x2="27.50" y2="1017.00" stroke="#B3C9E6" stroke-width="1"/>
<line x1="22.00" y1="1013.50" x2="29.00" y2="1013.50" stroke="#C6D6EC" stroke-width="1"/>
<line x1="22.00" y1="1015.50" x2="29.00" y2="1015.50" stroke="#C6D6EC" stroke-width="1"/>
<line x1="21.00" y1="1010.50" x2="30.00" y2="1010.50" stroke="#8A8A8A" stroke-width="1"/>
<line x1="29.50" y1="1010.00" x2="29.50" y2="1018.00" stroke="#9A9A9A" stroke-width="1"/>
<line x1="21.50" y1="1010.00" x2="21.50" y2="1018.00" stroke="#4A4A4A" stroke-width="1"/>
<line x1="21.00" y1="1017.50" x2="30.00" y2="1017.50" stroke="#4A4A4A" stroke-width="1"/>
<rect x="286.00" y="1001.00" width="9.00" height="8.00" fill="#FFFFFF" stroke="none" stroke-width="1" />
<line x1="289.50" y1="1002.00" x2="289.50" y2="1008.00" stroke="#B3C9E6" stroke-width="1"/>
<line x1="292.50" y1="1002.00" x2="292.50" y2="1008.00" stroke="#B3C9E6" stroke-width="1"/>
<line x1="287.00" y1="1004.50" x2="294.00" y2="1004.50" stroke="#C6D6EC" stroke-width="1"/>
<line x1="287.00" y1="1006.50" x2="294.00" y2="1006.50" stroke="#C6D6EC" stroke-width="1"/>
<line x1="286.00" y1="1001.50" x2="295.00" y2="1001.50" stroke="#8A8A8A" stroke-width="1"/>
<line x1="294.50" y1="1001.00" x2="294.50" y2="1009.00" stroke="#9A9A9A" stroke-width="1"/>
<line x1="286.50" y1="1001.00" x2="286.50" y2="1009.00" stroke="#4A4A4A" stroke-width="1"/>
<line x1="286.00" y1="1008.50" x2="295.00" y2="1008.50" stroke="#4A4A4A" stroke-width="1"/>
<rect x="286.00" y="1010.00" width="9.00" height="8.00" fill="#FFFFFF" stroke="none" stroke-width="1" />
<line x1="289.50" y1="1011.00" x2="289.50" y2="1017.00" stroke="#B3C9E6" stroke-width="1"/>
<line x1="292.50" y1="1011.00" x2="292.50" y2="1017.00" stroke="#B3C9E6" stroke-width="1"/>
<line x1="287.00" y1="1013.50" x2="294.00" y2="1013.50" stroke="#C6D6EC" stroke-width="1"/>
<line x1="287.00" y1="1015.50" x2="294.00" y2="1015.50" stroke="#C6D6EC" stroke-width="1"/>
<line x1="286.00" y1="1010.50" x2="295.00" y2="1010.50" stroke="#8A8A8A" stroke-width="1"/>
<line x1="294.50" y1="1010.00" x2="294.50" y2="1018.00" stroke="#9A9A9A" stroke-width="1"/>
<line x1="286.50" y1="1010.00" x2="286.50" y2="1018.00" stroke="#4A4A4A" stroke-width="1"/>
<line x1="286.00" y1="1017.50" x2="295.00" y2="1017.50" stroke="#4A4A4A" stroke-width="1"/>
<rect x="296.00" y="1001.00" width="9.00" height="8.00" fill="#FFFFFF" stroke="none" stroke-width="1" />
<line x1="299.50" y1="1002.00" x2="299.50" y2="1008.00" stroke="#B3C9E6" stroke-width="1"/>
<line x1="302.50" y1="1002.00" x2="302.50" y2="1008.00" stroke="#B3C9E6" stroke-width="1"/>
<line x1="297.00" y1="1004.50" x2="304.00" y2="1004.50" stroke="#C6D6EC" stroke-width="1"/>
<line x1="297.00" y1="1006.50" x2="304.00" y2="1006.50" stroke="#C6D6EC" stroke-width="1"/>
<line x1="296.00" y1="1001.50" x2="305.00" y2="1001.50" stroke="#8A8A8A" stroke-width="1"/>
<line x1="304.50" y1="1001.00" x2="304.50" y2="1009.00" stroke="#9A9A9A" stroke-width="1"/>
<line x1="296.50" y1="1001.00" x2="296.50" y2="1009.00" stroke="#4A4A4A" stroke-width="1"/>
<line x1="296.00" y1="1008.50" x2="305.00" y2="1008.50" stroke="#4A4A4A" stroke-width="1"/>
<rect x="296.00" y="1010.00" width="9.00" height="8.00" fill="#FFFFFF" stroke="none" stroke-width="1" />
<line x1="299.50" y1="1011.00" x2="299.50" y2="1017.00" stroke="#B3C9E6" stroke-width="1"/>
<line x1="302.50" y1="1011.00" x2="302.50" y2="1017.00" stroke="#B3C9E6" stroke-width="1"/>
<line x1="297.00" y1="1013.50" x2="304.00" y2="1013.50" stroke="#C6D6EC" stroke-width="1"/>
<line x1="297.00" y1="1015.50" x2="304.00" y2="1015.50" stroke="#C6D6EC" stroke-width="1"/>
<line x1="296.00" y1="1010.50" x2="305.00" y2="1010.50" stroke="#8A8A8A" stroke-width="1"/>
<line x1="304.50" y1="1010.00" x2="304.50" y2="1018.00" stroke="#9A9A9A" stroke-width="1"/>
<line x1="296.50" y1="1010.00" x2="296.50" y2="1018.00" stroke="#4A4A4A" stroke-width="1"/>
<line x1="296.00" y1="1017.50" x2="305.00" y2="1017.50" stroke="#4A4A4A" stroke-width="1"/>
<text x="37.11" y="1014.80" font-size="15.00" fill="#333333" text-anchor="start" font-weight="normal" textLength="112.28" lengthAdjust="spacingAndGlyphs" stroke="#333333" stroke-width="0.3">Strength Graphs</text>
<text x="311.61" y="1014.80" font-size="15.00" fill="#333333" text-anchor="start" font-weight="normal" textLength="127.78" lengthAdjust="spacingAndGlyphs" stroke="#333333" stroke-width="0.3">Stress Path Graphs</text>
<path d="M249.00 1005.30 L257.00 1013.30 M257.00 1005.30 L249.00 1013.30" stroke="#555555" stroke-width="1.6"/>
<path d="M524.00 1005.30 L532.00 1013.30 M532.00 1005.30 L524.00 1013.30" stroke="#555555" stroke-width="1.6"/>
<path d="M580 1011.5 L588 1011.5 M584 1007.5 L584 1015.5" stroke="#111111" stroke-width="1.1"/>
<path d="M636 1007 L640.3 1011.6 L644.6 1007" fill="none" stroke="#555555" stroke-width="2.3"/>
</svg>
</body></html>
